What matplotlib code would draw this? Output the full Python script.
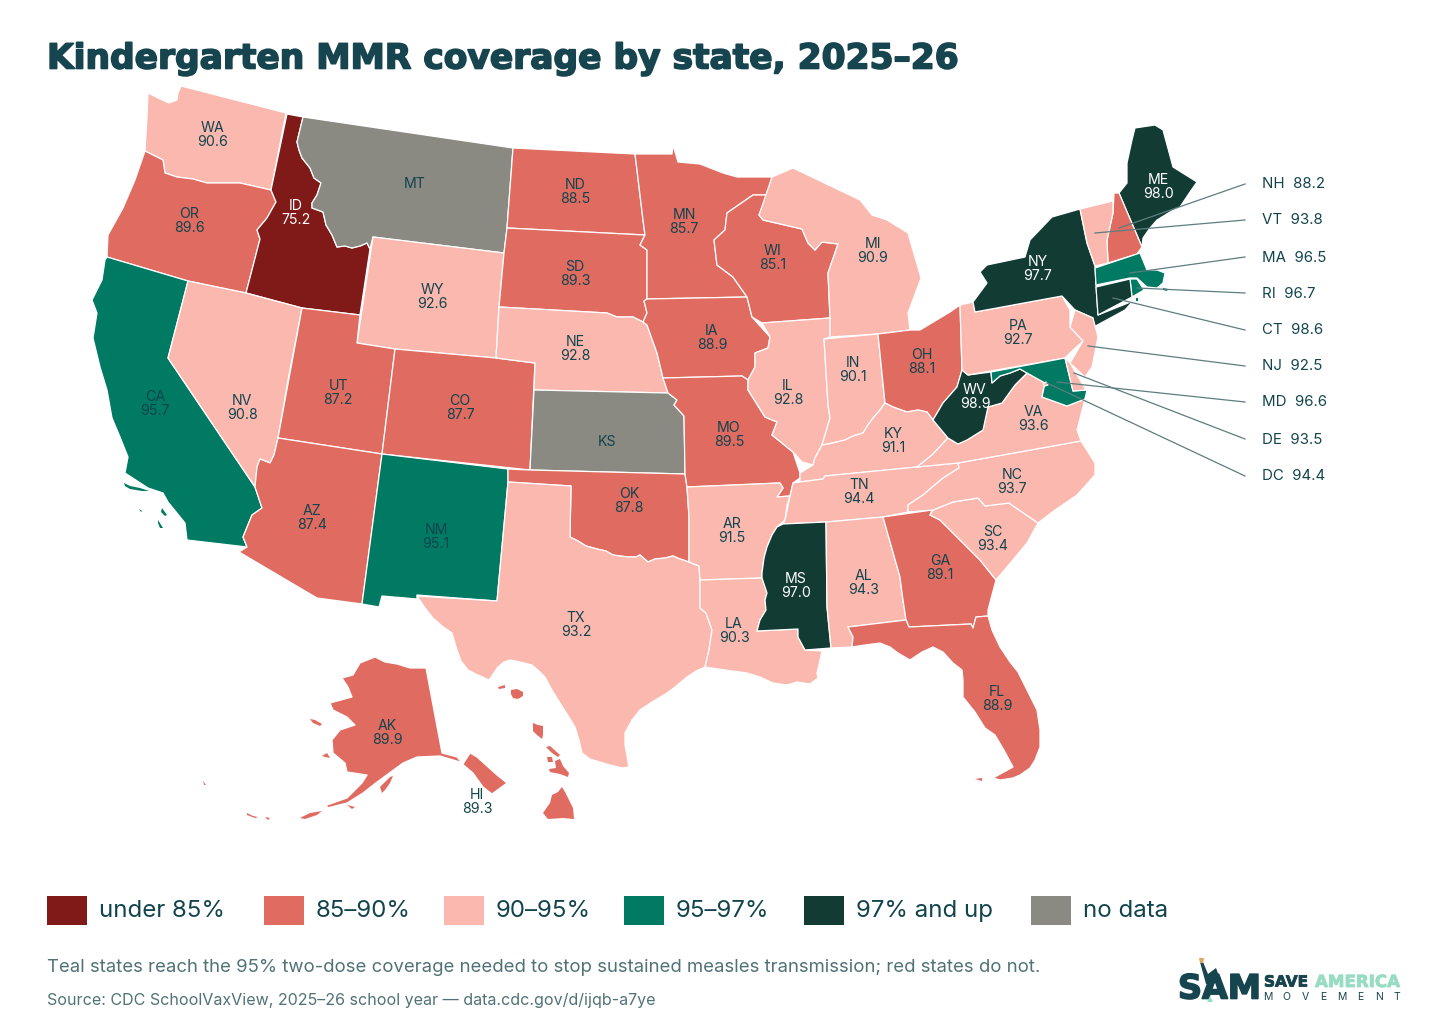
import numpy as np
import matplotlib
matplotlib.use('Agg')
import matplotlib.pyplot as plt
import matplotlib.patheffects as pe
from matplotlib.patches import Polygon, Rectangle

plt.rcParams['font.family'] = ['Inter', 'DejaVu Sans']

# state data
states = ['WA', 'OR', 'CA', 'ID', 'NV', 'MT', 'WY', 'UT', 'CO', 'AZ', 'NM', 'ND', 'SD', 'NE', 'KS', 'OK', 'TX',
          'MN', 'IA', 'MO', 'AR', 'LA', 'WI', 'IL', 'MI', 'IN', 'OH', 'KY', 'TN', 'MS', 'AL', 'GA', 'FL', 'SC',
          'NC', 'VA', 'WV', 'PA', 'NY', 'ME', 'AK', 'HI',
          'NH', 'VT', 'MA', 'RI', 'CT', 'NJ', 'MD', 'DE', 'DC']
coverage = [90.6, 89.6, 95.7, 75.2, 90.8, None, 92.6, 87.2, 87.7, 87.4, 95.1, 88.5, 89.3, 92.8, None, 87.8, 93.2,
            85.7, 88.9, 89.5, 91.5, 90.3, 85.1, 92.8, 90.9, 90.1, 88.1, 91.1, 94.4, 97.0, 94.3, 89.1, 88.9, 93.4,
            93.7, 93.6, 98.9, 92.7, 97.7, 98.0, 89.9, 89.3,
            88.2, 93.8, 96.5, 96.7, 98.6, 92.5, 96.6, 93.5, 94.4]

bin_edges = [85, 90, 95, 97]
bin_labels = ['under 85%', '85–90%', '90–95%', '95–97%', '97% and up', 'no data']
bin_colors = ['#801a19', '#e06b61', '#fbb8ae', '#007a63', '#123b34', '#8a8a82']

# shared wiggly borders in image pixels
id_mt = [(303, 117), (297, 142), (299, 150), (302, 158), (310, 168), (314, 178), (321, 183), (317, 195), (312, 203),
         (312, 208), (323, 212), (326, 225), (332, 235), (337, 247), (345, 246), (352, 248), (360, 246), (367, 243),
         (370, 249)]
red_river = [(570, 537), (578, 541), (586, 546), (597, 549), (606, 551), (613, 555), (620, 556), (628, 557), (636, 557),
             (640, 555), (648, 562), (655, 559), (665, 558), (673, 556), (680, 559), (689, 562)]
river_ar = [(790, 496), (787, 505), (785, 520), (777, 527), (772, 535), (767, 547), (764, 558), (762, 573), (762, 578)]
river_la = [(762, 578), (767, 593), (765, 600), (766, 610), (760, 620), (757, 631)]
river_in = [(822, 445), (828, 444), (837, 442), (845, 440), (853, 436), (863, 433), (868, 425), (873, 418), (880, 410),
            (885, 403)]
tx_la = [(700, 608), (706, 613), (712, 630), (709, 650), (705, 667)]


def back(chain):
    return chain[::-1]


shapes = {
    'WA': [[(181, 86), (286, 113), (271, 190), (240, 183), (207, 183), (193, 179), (177, 177), (165, 173), (163, 160),
            (145, 151), (147, 117), (148, 93), (158, 98), (169, 103), (177, 100), (178, 93)]],
    'OR': [[(145, 151), (163, 160), (165, 173), (177, 177), (193, 179), (207, 183), (240, 183), (271, 190), (276, 202),
            (267, 218), (257, 230), (260, 239), (246, 293), (188, 281), (107, 257), (108, 235), (123, 208), (135, 180)]],
    'CA': [[(107, 257), (188, 281), (168, 358), (255, 487), (262, 508), (252, 515), (243, 537), (247, 547), (187, 540),
            (185, 523), (168, 502), (163, 493), (148, 488), (125, 473), (128, 457), (120, 437), (112, 418), (107, 390),
            (100, 367), (93, 338), (97, 313), (92, 300), (102, 280), (105, 260)],
           [(124, 483), (130, 486), (140, 488), (149, 491), (142, 491), (130, 489), (125, 486)],
           [(162, 508), (167, 515), (165, 516), (161, 512)],
           [(158, 520), (163, 528), (160, 528), (158, 523)],
           [(139, 509), (142, 511), (141, 512)]],
    'NV': [[(188, 281), (246, 293), (302, 308), (288, 380), (278, 438), (274, 455), (270, 463), (260, 459), (257, 467),
            (255, 487), (168, 358)]],
    'ID': [[(287, 114)] + id_mt + [(360, 315), (302, 308), (246, 293), (260, 239), (257, 230), (267, 218), (276, 202),
                                   (271, 190)]],
    'MT': [[(303, 117), (513, 148), (507, 228), (504, 253), (373, 237)] + back(id_mt)],
    'WY': [[(373, 237), (504, 253), (499, 307), (496, 358), (395, 349), (357, 343)]],
    'UT': [[(302, 308), (360, 315), (357, 343), (395, 349), (382, 454), (278, 438)]],
    'CO': [[(395, 349), (496, 358), (535, 363), (530, 470), (382, 454)]],
    'NM': [[(382, 454), (508, 469), (508, 482), (497, 601), (417, 595), (417, 599), (382, 596), (379, 607), (362, 604)]],
    'AZ': [[(278, 438), (382, 454), (362, 604), (317, 598), (239, 552), (247, 547), (243, 537), (252, 515), (262, 508),
            (255, 487), (257, 467), (260, 459), (270, 463), (274, 455)]],
    'TX': [[(508, 482), (571, 486)] + red_river + [(699, 566), (700, 580)] + tx_la +
           [(696, 671), (687, 677), (675, 687), (667, 693), (652, 702), (640, 710), (632, 720), (625, 733), (625, 745),
            (629, 767), (622, 768), (610, 765), (600, 762), (590, 759), (582, 753), (579, 740), (575, 727), (567, 714),
            (560, 703), (552, 690), (545, 677), (539, 671), (532, 665), (520, 662), (510, 660), (504, 662), (498, 667),
            (489, 680), (478, 675), (468, 670), (461, 661), (457, 650), (454, 640), (452, 633), (442, 626), (433, 618),
            (425, 608), (417, 596), (497, 601)]],
    'OK': [[(508, 469), (530, 470), (685, 474), (687, 487), (689, 517)] + back(red_river) + [(571, 486), (508, 482)]],
    'KS': [[(534, 390), (668, 393), (677, 400), (674, 405), (684, 416), (685, 474), (530, 470)]],
    'NE': [[(499, 307), (607, 313), (617, 317), (633, 317), (643, 322), (647, 325), (657, 353), (663, 378), (668, 393),
            (534, 390), (535, 363), (496, 358)]],
    'SD': [[(507, 228), (645, 235), (640, 245), (647, 250), (647, 299), (644, 301), (647, 313), (643, 322), (633, 317),
            (617, 317), (607, 313), (499, 307), (504, 253)]],
    'ND': [[(513, 148), (635, 154), (637, 170), (643, 220), (645, 235), (507, 228)]],
    'MN': [[(635, 154), (672, 154), (673, 145), (678, 162), (700, 164), (723, 173), (737, 177), (772, 177), (767, 195),
            (753, 195), (727, 213), (725, 230), (714, 240), (717, 265), (733, 277), (747, 297), (647, 299),
            (647, 250), (640, 245), (645, 235), (643, 220), (637, 170)]],
    'IA': [[(647, 299), (747, 297), (752, 317), (770, 337), (768, 348), (755, 353), (755, 367), (748, 380), (742, 376),
            (663, 378), (657, 353), (647, 325), (643, 322), (647, 313), (644, 301)]],
    'MO': [[(663, 378), (742, 376), (748, 380), (748, 390), (765, 417), (777, 422), (772, 435), (793, 452), (800, 473),
            (800, 478), (793, 483), (790, 496), (777, 497), (783, 488), (780, 483), (687, 487), (685, 474), (684, 416),
            (674, 405), (677, 400), (668, 393)]],
    'AR': [[(687, 487), (780, 483), (783, 488), (777, 497)] + river_ar + [(700, 580), (699, 566), (689, 562), (689, 517)]],
    'LA': [[(700, 580)] + river_la + [(798, 629), (798, 637), (805, 650), (822, 651), (820, 660), (817, 673), (818, 678),
                                      (810, 684), (797, 682), (787, 685), (773, 683), (760, 677), (747, 673),
                                      (725, 670)] + back(tx_la)],
    'WI': [[(753, 195), (767, 195), (759, 215), (763, 220), (802, 229), (808, 243), (815, 250), (822, 242), (838, 244),
            (828, 273), (830, 318), (762, 323), (752, 317), (747, 297), (733, 277), (717, 265), (714, 240), (725, 230),
            (727, 213)]],
    'MI': [[(772, 177), (793, 168), (860, 200), (872, 215), (887, 220), (908, 233), (921, 278), (908, 313), (910, 330),
            (878, 334), (830, 337), (830, 318), (828, 273), (838, 244), (822, 242), (815, 250), (808, 243), (802, 229),
            (763, 220), (759, 215)]],
    'IL': [[(762, 323), (830, 318), (830, 337), (824, 339), (828, 405), (830, 418), (822, 445), (815, 458), (813, 465),
            (802, 462), (793, 452), (772, 435), (777, 422), (765, 417), (748, 390), (748, 380), (755, 367), (755, 353),
            (768, 348), (770, 337)]],
    'IN': [[(824, 339), (878, 334)] + back(river_in) + [(830, 418), (828, 405)]],
    'OH': [[(878, 334), (910, 330), (920, 330), (950, 312), (960, 305), (962, 370), (957, 387), (943, 403), (933, 420),
            (927, 412), (918, 410), (907, 412), (893, 407), (885, 403)]],
    'KY': [river_in + [(893, 407), (907, 412), (918, 410), (927, 412), (933, 420), (948, 438), (932, 455), (917, 467),
                       (825, 476), (823, 479), (800, 482), (800, 473), (813, 465), (815, 458)]],
    'TN': [[(793, 483), (800, 482), (823, 479), (825, 476), (917, 467), (958, 463), (959, 468), (943, 478), (923, 495),
            (908, 505), (908, 512), (883, 517), (826, 522), (783, 524), (785, 520), (790, 496)]],
    'MS': [[(783, 524), (826, 522), (827, 607), (831, 648), (805, 650), (798, 637), (798, 629)] + back(river_la) +
           back(river_ar)[:6]],
    'AL': [[(826, 522), (883, 517), (900, 577), (902, 593), (906, 620), (848, 627), (853, 637), (852, 647), (831, 648),
            (827, 607)]],
    'GA': [[(883, 517), (932, 510), (930, 515), (940, 520), (960, 540), (980, 560), (996, 580), (988, 610), (988, 616),
            (976, 617), (973, 628), (971, 624), (909, 627), (906, 620), (902, 593), (900, 577)]],
    'FL': [[(848, 627), (906, 620), (909, 627), (971, 624), (973, 628), (976, 617), (988, 616), (992, 630), (1000, 647),
            (1010, 662), (1018, 672), (1027, 690), (1037, 710), (1040, 730), (1040, 747), (1035, 760), (1030, 768),
            (1020, 775), (1013, 778), (1000, 780), (993, 778), (1004, 772), (1013, 767), (1005, 752), (995, 735),
            (985, 728), (975, 712), (963, 697), (963, 680), (962, 670), (953, 663), (943, 652), (933, 647), (922, 652),
            (910, 660), (898, 653), (890, 647), (880, 643), (865, 645), (852, 647), (853, 637)],
           [(975, 779), (982, 778), (982, 781)]],
    'SC': [[(933, 510), (953, 502), (978, 498), (985, 506), (1009, 503), (1038, 523), (1027, 543), (1007, 567),
            (996, 580), (980, 560), (960, 540), (940, 520), (930, 515)]],
    'NC': [[(1081, 441), (1095, 463), (1095, 475), (1077, 495), (1055, 510), (1038, 523), (1009, 503), (985, 506),
            (978, 498), (953, 502), (933, 510), (908, 512), (908, 505), (923, 495), (943, 478), (959, 468), (958, 463)]],
    'VA': [[(1027, 373), (1045, 383), (1042, 397), (1067, 406), (1085, 399), (1077, 430), (1081, 441), (958, 463),
            (917, 467), (932, 455), (948, 438), (958, 444), (967, 440), (983, 430), (988, 407), (1002, 403), (1015, 385)]],
    'WV': [[(962, 370), (968, 375), (991, 372), (992, 383), (1000, 376), (1010, 373), (1020, 369), (1027, 373), (1015, 385),
            (1002, 403), (988, 407), (983, 430), (967, 440), (958, 444), (948, 438), (933, 420), (943, 403), (957, 387)]],
    'PA': [[(960, 305), (973, 302), (975, 312), (1062, 296), (1070, 310), (1070, 327), (1083, 341), (1070, 353),
            (1065, 358), (968, 375), (962, 370)]],
    'NY': [[(973, 302), (987, 283), (980, 272), (987, 265), (1025, 257), (1030, 240), (1052, 217), (1080, 209),
            (1087, 243), (1095, 266), (1096, 285), (1098, 315), (1133, 301), (1125, 310), (1090, 329), (1093, 318),
            (1075, 310), (1062, 296), (975, 312)]],
    'ME': [[(1135, 128), (1155, 125), (1163, 130), (1173, 167), (1197, 182), (1190, 192), (1180, 207), (1170, 212),
            (1157, 220), (1150, 228), (1143, 238), (1142, 247), (1119, 193), (1127, 183), (1127, 163), (1132, 140)]],
    'NH': [[(1114, 193), (1119, 193), (1142, 247), (1137, 254), (1108, 263), (1107, 240), (1113, 213)]],
    'VT': [[(1080, 209), (1113, 201), (1113, 213), (1107, 240), (1108, 263), (1095, 266), (1087, 243)]],
    'MA': [[(1095, 268), (1137, 254), (1140, 253), (1147, 270), (1157, 270), (1165, 273), (1163, 283), (1157, 288),
            (1147, 287), (1137, 278), (1130, 278), (1096, 285)],
           [(1163, 288), (1168, 289), (1167, 291), (1163, 290)]],
    'RI': [[(1130, 279), (1137, 279), (1144, 290), (1132, 297)], [(1136, 298), (1138, 298), (1138, 301), (1136, 301)]],
    'CT': [[(1096, 287), (1130, 279), (1132, 297), (1098, 315)]],
    'NJ': [[(1075, 310), (1093, 318), (1098, 337), (1092, 367), (1085, 377), (1070, 363), (1083, 341), (1070, 327)]],
    'DE': [[(1065, 358), (1070, 363), (1086, 390), (1073, 391)]],
    'MD': [[(991, 372), (1065, 358), (1073, 391), (1087, 390), (1085, 399), (1067, 406), (1042, 397), (1045, 383),
            (1027, 373), (1020, 369), (1010, 373), (1000, 376), (992, 383)]],
    'DC': [[(1043, 384), (1046, 382), (1048, 385), (1045, 386)]],
    'AK': [[(375, 657), (385, 662), (397, 664), (410, 668), (426, 668), (442, 753), (457, 757), (463, 764), (470, 753),
            (477, 757), (497, 775), (507, 783), (492, 794), (483, 787), (473, 773), (460, 762), (440, 756), (417, 757),
            (403, 763), (377, 782), (363, 793), (347, 803), (327, 808), (327, 805), (347, 798), (362, 783), (367, 775),
            (347, 772), (345, 763), (333, 753), (332, 740), (340, 730), (355, 725), (347, 717), (333, 710), (330, 703),
            (352, 697), (348, 687), (342, 678), (353, 675), (360, 663)],
           [(380, 787), (390, 777), (393, 776), (390, 783), (385, 790), (382, 793)],
           [(310, 719), (315, 720), (322, 724), (320, 726), (313, 723)],
           [(322, 756), (327, 753), (330, 758), (325, 757)],
           [(203, 781), (206, 785), (204, 785)],
           [(247, 813), (253, 816), (258, 817), (255, 818), (247, 815)],
           [(265, 817), (270, 818), (268, 820)],
           [(300, 818), (310, 813), (322, 811), (317, 815), (305, 819)],
           [(347, 805), (355, 807), (352, 809)]],
    'HI': [[(562, 787), (565, 792), (573, 808), (574, 819), (563, 818), (548, 819), (543, 813), (550, 803), (552, 795),
            (558, 792)],
           [(555, 761), (560, 759), (563, 766), (569, 773), (568, 777), (560, 774), (550, 772), (549, 769), (556, 768)],
           [(546, 747), (550, 746), (560, 755), (558, 757), (552, 753)],
           [(533, 723), (538, 725), (543, 726), (543, 735), (542, 739), (537, 735), (533, 731)],
           [(511, 690), (517, 689), (523, 692), (523, 696), (518, 699), (513, 698), (511, 694)],
           [(498, 687), (505, 685), (505, 688), (499, 689)],
           [(547, 757), (552, 757), (553, 762), (548, 762)]],
}

# where the value labels sit
label_xy = {'WA': (213, 135), 'OR': (189, 221), 'CA': (155, 404), 'ID': (296, 213), 'NV': (242, 408), 'MT': (415, 184),
            'WY': (432, 297), 'UT': (338, 393), 'CO': (460, 408), 'AZ': (312, 518), 'NM': (436, 537), 'ND': (575, 192),
            'SD': (575, 274), 'NE': (575, 349), 'KS': (607, 442), 'OK': (629, 501), 'TX': (576, 625), 'MN': (684, 222),
            'IA': (712, 338), 'MO': (729, 435), 'AR': (732, 531), 'LA': (734, 631), 'WI': (773, 258), 'IL': (788, 393),
            'MI': (873, 251), 'IN': (853, 370), 'OH': (922, 362), 'KY': (893, 441), 'TN': (859, 492), 'MS': (796, 586),
            'AL': (864, 583), 'GA': (940, 568), 'FL': (997, 699), 'SC': (993, 539), 'NC': (1012, 482), 'VA': (1033, 419),
            'WV': (975, 397), 'PA': (1018, 333), 'NY': (1038, 269), 'ME': (1158, 187), 'AK': (387, 733), 'HI': (477, 802)}

callouts = {'NH': (1119, 228), 'VT': (1095, 233), 'MA': (1130, 273), 'RI': (1137, 288), 'CT': (1113, 298),
            'NJ': (1088, 346), 'MD': (1057, 382), 'DE': (1074, 373), 'DC': (1047, 383)}
callout_y = [184, 220, 257, 293, 330, 366, 402, 439, 476]

legend_x = [47, 264, 444, 624, 804, 1031]

INK = '#12444e'
MUTED = '#507277'
LOGO = '#17454f'
MINT = '#97dcc3'

fig = plt.figure(figsize=(14.56, 10.30), dpi=100)
ax = fig.add_axes([0, 0, 1, 1])
ax.set_xlim(0, 1456)
ax.set_ylim(1030, 0)
ax.axis('off')

values = dict(zip(states, coverage))

for st in states:
    val = values[st]
    idx = 5 if val is None else int(np.digitize(val, bin_edges))
    for i, ring in enumerate(shapes[st]):
        # islands get no white edge or they vanish
        if i > 0 or st == 'HI':
            ax.add_patch(Polygon(ring, closed=True, facecolor=bin_colors[idx], edgecolor='none', zorder=2))
        else:
            ax.add_patch(Polygon(ring, closed=True, facecolor=bin_colors[idx], edgecolor='white', linewidth=0.9,
                                 joinstyle='round', zorder=2))

# in-map labels
for st, (x, y) in label_xy.items():
    val = values[st]
    txt = st if val is None else f'{st}\n{val:.1f}'
    col = 'white' if st in ('ID', 'ME', 'NY', 'WV', 'MS') else INK
    ax.text(x, y, txt, ha='center', va='center', fontsize=10.2, color=col, linespacing=1.05, zorder=5)

# northeast call-outs
for (st, (x0, y0)), y1 in zip(callouts.items(), callout_y):
    ax.plot([x0, 1245], [y0, y1], color='#5d7d7f', lw=0.9, zorder=4)
    ax.text(1262, y1 + 0.5, f'{st}  {values[st]:.1f}', ha='left', va='center', fontsize=10.8, color=INK, zorder=5)

title = ax.text(47, 59, 'Kindergarten MMR coverage by state, 2025–26', fontsize=24.8, fontweight='bold', color=LOGO,
                ha='left', va='center', family='DejaVu Sans')
title.set_path_effects([pe.withStroke(linewidth=1.2, foreground=LOGO)])

# legend
for x, lab, col in zip(legend_x, bin_labels, bin_colors):
    ax.add_patch(Rectangle((x, 896), 40, 29, facecolor=col, edgecolor='none'))
    ax.text(x + 52, 911, lab, fontsize=17.3, color=INK, ha='left', va='center')

ax.text(47, 967, 'Teal states reach the 95% two-dose coverage needed to stop sustained measles transmission; red states do not.',
        fontsize=13.33, color=MUTED, ha='left', va='center')
ax.text(47, 1001, 'Source: CDC SchoolVaxView, 2025–26 school year — data.cdc.gov/d/ijqb-a7ye',
        fontsize=11.55, color=MUTED, ha='left', va='center')

# logo, as text plus a rough statue
sam = ax.text(1178, 989, 'SAM', fontsize=24, fontweight='bold', color=LOGO, ha='left', va='center', family='DejaVu Sans')
sam.set_path_effects([pe.withStroke(linewidth=1.2, foreground=LOGO)])
ax.add_patch(Polygon([(1200, 962), (1203, 962), (1208, 974), (1216, 968), (1219, 976), (1214, 984), (1206, 984)],
                     closed=True, facecolor=LOGO, edgecolor='none', zorder=3))
ax.add_patch(Polygon([(1199, 958), (1204, 958), (1203, 963), (1200, 963)], closed=True, facecolor='#d9a95f',
                     edgecolor='none', zorder=3))
ax.add_patch(Polygon([(1207, 1002), (1210, 996), (1213, 1002)], closed=True, facecolor=MINT, edgecolor='none', zorder=6))
save = ax.text(1264, 982, 'SAVE', fontsize=11, fontweight='bold', color=LOGO, ha='left', va='center', family='DejaVu Sans')
save.set_path_effects([pe.withStroke(linewidth=0.6, foreground=LOGO)])
amer = ax.text(1315, 982, 'AMERICA', fontsize=12, fontweight='bold', color=MINT, ha='left', va='center', family='DejaVu Sans')
amer.set_path_effects([pe.withStroke(linewidth=0.6, foreground=MINT)])
for x, letter in zip(np.linspace(1268, 1397, 8), 'MOVEMENT'):
    ax.text(x, 997.5, letter, fontsize=7.5, color=LOGO, ha='center', va='center')

fig.savefig('out.png', dpi=100)
